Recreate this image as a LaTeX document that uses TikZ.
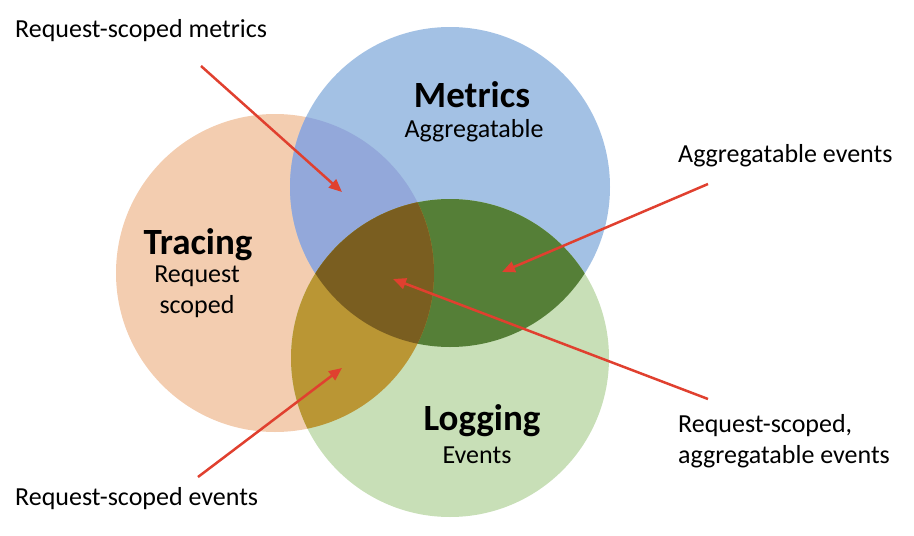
\documentclass[tikz,border=0pt]{standalone}
\usepackage{fontspec}
\setmainfont{Carlito}
\usetikzlibrary{arrows.meta}
\definecolor{tracefill}{HTML}{F3CDB0}
\definecolor{metricfill}{HTML}{A3C1E4}
\definecolor{logfill}{HTML}{C8DFB7}
\definecolor{tmfill}{HTML}{93A8DA}
\definecolor{mlfill}{HTML}{557F37}
\definecolor{tlfill}{HTML}{BA9634}
\definecolor{allfill}{HTML}{7A5E20}
\definecolor{arrowred}{HTML}{E0402F}
\tikzset{
  setarrow/.style={-{Triangle[length=13pt, width=11pt]}, line width=2.5pt, draw=arrowred},
  setname/.style={font=\fontsize{37}{44}\selectfont\bfseries, inner sep=0pt, anchor=base},
  setsub/.style={font=\fontsize{26}{31}\selectfont, inner sep=0pt, anchor=base},
  notelabel/.style={font=\fontsize{26}{31}\selectfont, inner sep=0pt, anchor=base west, align=left}
}

\begin{document}
\begin{tikzpicture}[x=1pt, y=-1pt]
  \useasboundingbox (0,0) rectangle (914,536);
  % circle centres
  \coordinate (tc) at (275,273);
  \coordinate (mc) at (450,187);
  \coordinate (lc) at (450,358);
  \fill[tracefill] (tc) circle (159pt);
  \fill[metricfill] (mc) circle (160pt);
  \fill[logfill] (lc) circle (159pt);
  % overlaps
  \begin{scope}
    \clip (tc) circle (159pt);
    \fill[tmfill] (mc) circle (160pt);
  \end{scope}
  \begin{scope}
    \clip (mc) circle (160pt);
    \fill[mlfill] (lc) circle (159pt);
  \end{scope}
  \begin{scope}
    \clip (tc) circle (159pt);
    \fill[tlfill] (lc) circle (159pt);
  \end{scope}
  \begin{scope}
    \clip (tc) circle (159pt);
    \clip (mc) circle (160pt);
    \fill[allfill] (lc) circle (159pt);
  \end{scope}

  % set names
  \node[setname] (metrics) at (472,107) {Metrics};
  \node[setsub] (metricsub) at (474,137) {Aggregatable};
  \node[setname] (tracing) at (198,254) {Tracing};
  \node[setsub] (tracingsub) at (197,282) {Request};
  \node[setsub] (tracingsub2) at (197,313) {scoped};
  \node[setname] (logging) at (482,430) {Logging};
  \node[setsub] (loggingsub) at (477,463) {Events};

  % notes
  \node[notelabel] (rsmetrics) at (15,37) {Request-scoped metrics};
  \node[notelabel] (aggevents) at (678,162) {Aggregatable events};
  \node[notelabel] (rsagg) at (678,463) {Request-scoped,\\aggregatable events};
  \node[notelabel] (rsevents) at (15,505) {Request-scoped events};

  % arrow ends
  \coordinate (a1) at (201,66);
  \coordinate (b1) at (342,192);
  \coordinate (a2) at (708,184);
  \coordinate (b2) at (502,272);
  \coordinate (a3) at (708,399);
  \coordinate (b3) at (393,279);
  \coordinate (a4) at (198,477);
  \coordinate (b4) at (342,368);
  \draw[setarrow] (a1) -- (b1);
  \draw[setarrow] (a2) -- (b2);
  \draw[setarrow] (a3) -- (b3);
  \draw[setarrow] (a4) -- (b4);
\end{tikzpicture}
\end{document}
